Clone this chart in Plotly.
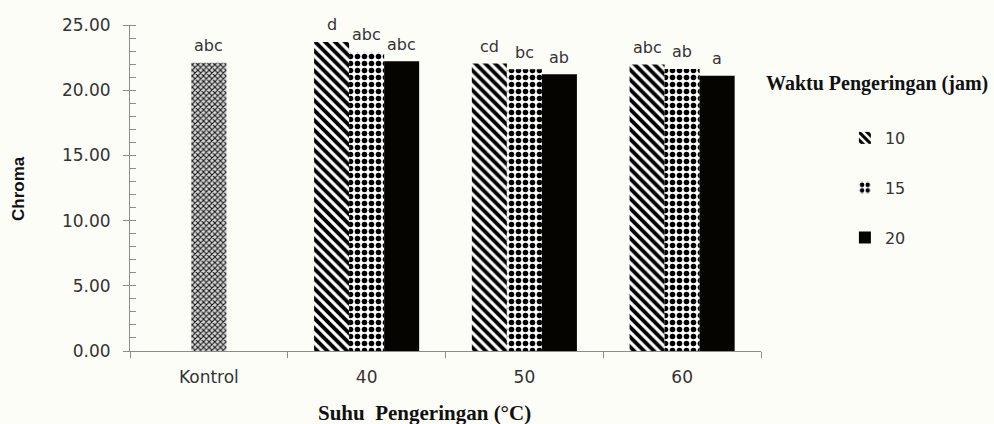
import plotly.graph_objects as go

# Kategori suhu pengeringan
categories = ["Kontrol", "40", "50", "60"]
temps = ["40", "50", "60"]

# Nilai chroma
kontrol_value = [22.1]
kontrol_label = ["abc"]

series_names = ["10", "15", "20"]
values_10 = [23.7, 22.05, 21.98]
values_15 = [22.93, 21.6, 21.63]
values_20 = [22.22, 21.22, 21.1]
labels_10 = ["d", "cd", "abc"]
labels_15 = ["abc", "bc", "ab"]
labels_20 = ["abc", "ab", "a"]

BAR_W = 0.222
TXT = "#333333"
BG = "#fdfdf8"

fig = go.Figure()

fig.add_trace(go.Bar(
    x=categories[:1], y=kontrol_value, width=BAR_W, offset=-BAR_W / 2,
    marker=dict(color="#c4c4c4", opacity=1, line=dict(width=0),
                pattern=dict(shape="x", size=4, solidity=0.45, fgopacity=1,
                             fgcolor="#111111", bgcolor="#d8d8d8")),
    showlegend=False, hoverinfo="skip",
))

styles = [
    dict(color="#ffffff", opacity=1, line=dict(width=0),
         pattern=dict(shape="\\", size=7, solidity=0.55, fgopacity=1,
                      fgcolor="#000000", bgcolor="#ffffff")),
    dict(color="#ffffff", opacity=1, line=dict(width=0),
         pattern=dict(shape=".", size=7, solidity=0.5, fgopacity=1,
                      fgcolor="#000000", bgcolor="#ffffff")),
    dict(color="#050400", opacity=1, line=dict(width=0)),
]
all_values = [values_10, values_15, values_20]
all_labels = [labels_10, labels_15, labels_20]
offsets = [-1.5 * BAR_W, -0.5 * BAR_W, 0.5 * BAR_W]

for name, vals, st, off in zip(series_names, all_values, styles, offsets):
    fig.add_trace(go.Bar(
        x=temps, y=vals, name=name, width=BAR_W, offset=off,
        marker=st, legendgroup=name, hoverinfo="skip",
    ))

label_font = dict(family="DejaVu Sans", size=16, color=TXT)
annotations = []
annotations.append(dict(x=0, y=kontrol_value[0], text=kontrol_label[0],
                        xref="x", yref="y", showarrow=False, yshift=17,
                        xanchor="center", yanchor="middle", font=label_font))
for vals, labs, off in zip(all_values, all_labels, offsets):
    for i, (v, lab) in enumerate(zip(vals, labs)):
        annotations.append(dict(x=i + 1 + off + BAR_W / 2, y=v, text=lab,
                                xref="x", yref="y", showarrow=False, yshift=17,
                                xanchor="center", yanchor="middle", font=label_font))

# Judul sumbu dan judul legenda
annotations.append(dict(x=-0.1775, y=0.5, xref="paper", yref="paper", text="<b>Chroma</b>",
                        textangle=-90, showarrow=False, xanchor="center", yanchor="middle",
                        font=dict(family="Liberation Sans", size=17, color="#111111")))
annotations.append(dict(x=0.466, y=-0.19, xref="paper", yref="paper",
                        text="<b>Suhu  Pengeringan (°C)</b>", showarrow=False,
                        xanchor="center", yanchor="middle",
                        font=dict(family="Liberation Serif", size=21, color="#111111")))
annotations.append(dict(x=1.184, y=0.822, xref="paper", yref="paper",
                        text="<b>Waktu Pengeringan (jam)</b>", showarrow=False,
                        xanchor="center", yanchor="middle",
                        font=dict(family="Liberation Serif", size=20, color="#111111")))

axis_col = "#8c8c8c"
tick_font = dict(family="DejaVu Sans", size=17, color=TXT)

fig.update_layout(
    width=994, height=424,
    margin=dict(l=130, r=233, t=25, b=73),
    paper_bgcolor=BG, plot_bgcolor=BG,
    barmode="overlay",
    annotations=annotations,
    showlegend=True,
    legend=dict(xref="container", yref="container", x=0.85, y=1 - 121 / 424,
                xanchor="left", yanchor="top", tracegroupgap=26,
                font=dict(family="DejaVu Sans", size=16, color=TXT),
                bgcolor="rgba(0,0,0,0)", itemclick=False),
    xaxis=dict(type="category", categoryorder="array", categoryarray=categories,
               range=[-0.5, 3.5], showline=True, linecolor=axis_col, linewidth=1,
               ticks="outside", tickson="boundaries", ticklen=6, tickcolor=axis_col,
               showgrid=False, ticklabelstandoff=11, tickfont=tick_font),
    yaxis=dict(range=[0, 25], dtick=5, tickformat=".2f", showline=True,
               linecolor=axis_col, linewidth=1, ticks="outside", ticklen=6,
               tickcolor=axis_col, showgrid=False, zeroline=False,
               ticklabelstandoff=9, tickfont=tick_font,
               minor=dict(ticks="inside", dtick=1, ticklen=6, tickcolor=axis_col,
                          showgrid=False)),
)

fig.write_html("out.html")
